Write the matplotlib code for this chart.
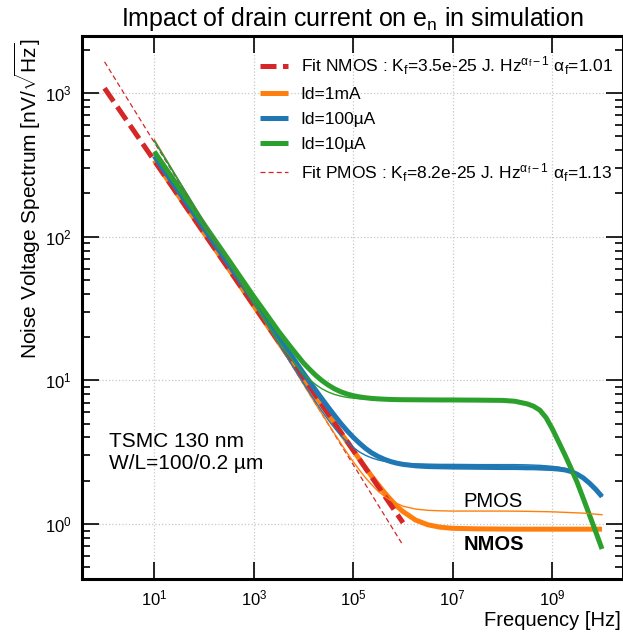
import matplotlib
matplotlib.use("Agg")
import numpy as np
import matplotlib.pyplot as plt
from matplotlib.ticker import FixedLocator, LogLocator, NullFormatter, FixedFormatter

plt.rcParams["font.family"] = ["Liberation Sans", "DejaVu Sans"]
plt.rcParams["mathtext.fontset"] = "custom"
plt.rcParams["mathtext.rm"] = "Liberation Sans"
plt.rcParams["mathtext.it"] = "Liberation Sans:italic"
plt.rcParams["mathtext.bf"] = "Liberation Sans:bold"

# ── données ───────────────────────────────────────────────────
# exposants de fréquence (Hz) des points des courbes simulées
freq_exp = [1.0, 1.5, 2.0, 2.5, 3.0, 3.25, 3.5, 3.75, 4.0, 4.125, 4.25, 4.375, 4.5, 4.625,
            4.75, 4.875, 5.0, 5.125, 5.25, 5.375, 5.5, 5.625, 5.75, 5.875, 6.0, 6.25, 6.5,
            6.75, 7.0, 7.5, 8.0, 8.25, 8.5, 8.625, 8.75, 8.875, 9.0, 9.125, 9.25, 9.375,
            9.5, 9.625, 9.75, 9.875, 10.0]

# NMOS (traits épais)
nmos_1mA = [340, 190, 106, 59.5, 33.0, 24.7, 18.4, 13.8, 10.3, 8.91, 7.71, 6.67, 5.77, 4.99,
            4.32, 3.74, 3.25, 2.82, 2.45, 2.14, 1.88, 1.66, 1.48, 1.33, 1.22, 1.066, 0.987,
            0.949, 0.933, 0.925, 0.922, 0.92, 0.92, 0.92, 0.92, 0.92, 0.92, 0.92, 0.92, 0.92,
            0.92, 0.92, 0.92, 0.92, 0.92]
nmos_100uA = [364, 204, 114, 63.7, 35.6, 26.7, 19.9, 15.0, 11.2, 9.75, 8.49, 7.40, 6.47, 5.68,
              5.01, 4.46, 4.01, 3.65, 3.35, 3.12, 2.95, 2.82, 2.72, 2.65, 2.60, 2.54, 2.51,
              2.50, 2.49, 2.48, 2.47, 2.47, 2.46, 2.46, 2.45, 2.44, 2.43, 2.41, 2.38, 2.32,
              2.22, 2.09, 1.92, 1.74, 1.55]
nmos_10uA = [391, 219, 122, 68.5, 38.3, 29.0, 21.9, 16.9, 13.2, 11.9, 10.8, 9.93, 9.25, 8.72,
             8.32, 8.03, 7.82, 7.67, 7.56, 7.48, 7.43, 7.39, 7.36, 7.34, 7.33, 7.32, 7.31,
             7.30, 7.30, 7.28, 7.25, 7.15, 6.85, 6.60, 6.20, 5.50, 4.60, 3.75, 3.05, 2.45,
             1.95, 1.50, 1.15, 0.88, 0.67]

# PMOS (traits fins)
pmos_1mA = [475, 243, 127, 66.1, 34.5, 24.9, 18.0, 13.0, 9.39, 7.98, 6.79, 5.82, 4.96, 4.25,
            3.64, 3.13, 2.71, 2.37, 2.09, 1.87, 1.69, 1.56, 1.46, 1.39, 1.33, 1.27, 1.245,
            1.235, 1.23, 1.23, 1.23, 1.228, 1.225, 1.222, 1.22, 1.218, 1.215, 1.21, 1.205,
            1.2, 1.195, 1.19, 1.18, 1.17, 1.16]
pmos_100uA = [465, 242, 126, 65.8, 34.5, 25.0, 18.1, 13.1, 9.54, 8.17, 7.03, 6.07, 5.28, 4.64,
              4.12, 3.72, 3.41, 3.17, 3.0, 2.88, 2.79, 2.73, 2.69, 2.66, 2.64, 2.62, 2.61,
              2.60, 2.60, 2.59, 2.59, 2.59, 2.58, 2.57, 2.56, 2.54, 2.52, 2.49, 2.43, 2.35,
              2.24, 2.10, 1.93, 1.75, 1.56]
pmos_10uA = [466, 243, 127, 66.1, 34.6, 25.4, 18.7, 14.2, 11.1, 10.1, 9.31, 8.71, 8.28, 7.97,
             7.76, 7.61, 7.51, 7.44, 7.39, 7.36, 7.34, 7.33, 7.33, 7.32, 7.32, 7.32, 7.31,
             7.30, 7.30, 7.28, 7.25, 7.15, 6.86, 6.62, 6.22, 5.52, 4.62, 3.78, 3.08, 2.48,
             1.98, 1.53, 1.18, 0.90, 0.69]

# ajustements 1/f (extrémités)
fit_freq = [1.0, 1.0e6]
fit_nmos = [1080, 1.02]
fit_pmos = [1650, 0.71]

LBL_FIT_N = (r"Fit NMOS : K$_{\rm f}$=3.5e-25 J. Hz$^{\mathrm{\alpha}_{\rm f}-1}$"
             r" $\mathrm{\alpha}_{\rm f}$=1.01")
LBL_FIT_P = (r"Fit PMOS : K$_{\rm f}$=8.2e-25 J. Hz$^{\mathrm{\alpha}_{\rm f}-1}$"
             r" $\mathrm{\alpha}_{\rm f}$=1.13")
xtick_vals = [1e1, 1e3, 1e5, 1e7, 1e9]
xtick_lbls = [r"$10^{1}$", r"$10^{3}$", r"$10^{5}$", r"$10^{7}$", r"$10^{9}$"]
ytick_vals = [1e0, 1e1, 1e2, 1e3]
ytick_lbls = [r"$10^{0}$", r"$10^{1}$", r"$10^{2}$", r"$10^{3}$"]

CORES = {"1mA": "#ff7f0e", "100uA": "#1f77b4", "10uA": "#2ca02c", "fit": "#d62728"}

# ── figure ────────────────────────────────────────────────────
W, H = 623, 635
fig = plt.figure(figsize=(W / 100, H / 100), dpi=100)
ax = fig.add_axes([81.5 / W, 56 / H, 541.5 / W, 543 / H])

freq = 10.0 ** np.array(freq_exp)
kw_thick = dict(lw=3.6, solid_joinstyle="round", solid_capstyle="butt")
kw_thin = dict(lw=1.0, solid_joinstyle="round", zorder=4)

# ordre de tracé : orange épais, fit NMOS, bleu et vert épais, puis traits fins
h1, = ax.plot(freq, nmos_1mA, color=CORES["1mA"], label="Id=1mA", zorder=2.0, **kw_thick)
hf1, = ax.plot(fit_freq, fit_nmos, color=CORES["fit"], lw=3.6, ls=(0, (3.2, 1.3)),
               label=LBL_FIT_N, zorder=2.1)
h2, = ax.plot(freq, nmos_100uA, color=CORES["100uA"], label="Id=100µA", zorder=2.2, **kw_thick)
h3, = ax.plot(freq, nmos_10uA, color=CORES["10uA"], label="Id=10µA", zorder=2.3, **kw_thick)
hf2, = ax.plot(fit_freq, fit_pmos, color=CORES["fit"], lw=0.9, ls=(0, (4, 2.5)),
               label=LBL_FIT_P, zorder=2.4)
ax.plot(freq, pmos_1mA, color=CORES["1mA"], **kw_thin)
ax.plot(freq, pmos_100uA, color=CORES["100uA"], **kw_thin)
ax.plot(freq, pmos_10uA, color=CORES["10uA"], **kw_thin)

ax.set_xscale("log")
ax.set_yscale("log")
ax.set_xlim(10 ** -0.463, 10 ** 10.422)
ax.set_ylim(10 ** -0.383, 10 ** 3.397)

ax.xaxis.set_major_locator(FixedLocator(xtick_vals))
ax.xaxis.set_major_formatter(FixedFormatter(xtick_lbls))
ax.xaxis.set_minor_locator(FixedLocator([]))
ax.yaxis.set_major_locator(FixedLocator(ytick_vals))
ax.yaxis.set_major_formatter(FixedFormatter(ytick_lbls))
ax.yaxis.set_minor_locator(LogLocator(base=10, subs=np.arange(2, 10)))
ax.yaxis.set_minor_formatter(NullFormatter())

ax.tick_params(which="both", direction="in", top=True, right=True, labelsize=12, width=1.2)
ax.tick_params(which="major", length=12, pad=7)
ax.tick_params(which="minor", length=6)
for s in ax.spines.values():
    s.set_linewidth(2.2)
ax.grid(which="major", color="#c8c8c8", ls=":", lw=0.9)

ax.legend(handles=[hf1, h1, h2, h3, hf2], loc="upper left", bbox_to_anchor=(0.316, 0.978),
          frameon=False, fontsize=12.5, handlelength=1.62, handletextpad=0.75,
          labelspacing=0.55, borderaxespad=0)

ax.text(0.051, 0.243, "TSMC 130 nm", transform=ax.transAxes, fontsize=15, va="baseline")
ax.text(0.051, 0.2026, "W/L=100/0.2 µm", transform=ax.transAxes, fontsize=15, va="baseline")
ax.text(0.706, 0.1326, "PMOS", transform=ax.transAxes, fontsize=14.5, va="baseline")
ax.text(0.706, 0.0534, "NMOS", transform=ax.transAxes, fontsize=14.5, va="baseline",
        fontweight="bold")

fig.text(352 / W, 1 - 19 / H, r"Impact of drain current on e$_{\rm n}$ in simulation",
         ha="center", va="center", fontsize=18)
fig.text(28 / W, 1 - 38 / H, r"Noise Voltage Spectrum [nV/$\sqrt{\rm Hz}$]",
         rotation=90, ha="center", va="top", fontsize=15)
fig.text(621 / W, 1 - 620 / H, "Frequency [Hz]", ha="right", va="center", fontsize=14.5)

fig.savefig("out.png", dpi=100)
plt.close("all")
